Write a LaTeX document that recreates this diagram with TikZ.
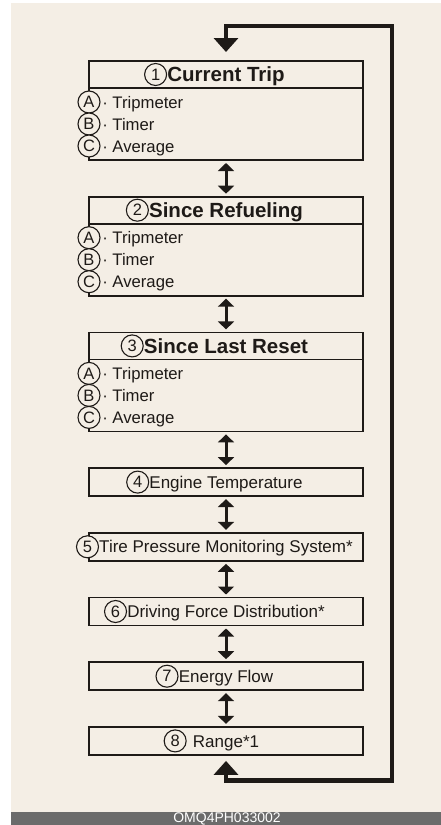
\documentclass[tikz,border=0pt]{standalone}
\usepackage{fontspec}
\setsansfont{Liberation Sans}
\usetikzlibrary{arrows.meta,positioning}
\definecolor{pagebg}{HTML}{F4EEE5}
\definecolor{inkc}{HTML}{1E1A17}
\definecolor{barbg}{HTML}{6B6B6B}

\begin{document}
\begin{tikzpicture}[
  x=1pt, y=1pt,
  font=\sffamily,
  head/.style={
    draw=inkc,
    line width=1.8pt,
    outer sep=0pt,
    inner sep=0pt,
    minimum width=274pt,
    minimum height=27pt
  },
  body/.style={
    head,
    minimum height=72pt
  },
  single/.style={
    head,
    minimum height=28pt
  },
  ttl/.style={
    font=\sffamily\bfseries\fontsize{20.5}{24}\selectfont,
    text=inkc,
    inner sep=0pt,
    text height=14.8pt,
    text depth=0pt
  },
  lbl/.style={
    font=\sffamily\fontsize{17}{20}\selectfont,
    text=inkc,
    inner sep=0pt,
    text height=12.2pt,
    text depth=0pt
  },
  itm/.style={
    font=\sffamily\fontsize{16.7}{20}\selectfont,
    text=inkc,
    inner sep=0pt,
    text height=12pt,
    text depth=0pt
  },
  num/.style={
    circle,
    draw=inkc,
    line width=1.1pt,
    fill=pagebg,
    minimum size=22pt,
    inner sep=0pt,
    text=inkc,
    font=\sffamily\fontsize{16.5}{16.5}\selectfont
  },
  dbl/.style={
    {Triangle[width=16pt,length=8pt]}-{Triangle[width=16pt,length=8pt]},
    line width=3pt,
    draw=inkc,
    shorten <=3pt,
    shorten >=3pt
  },
  looparr/.style={
    {Triangle[width=24pt,length=14pt]}-{Triangle[width=24pt,length=14pt]},
    line width=4.5pt,
    draw=inkc,
    line join=miter
  }
]
\useasboundingbox (0,0) rectangle (441,-825);

% --- page ---
\fill[pagebg] (11,-3) rectangle (441,-812);
\fill[barbg] (11,-812) rectangle (441,-825);
\node[font=\sffamily\fontsize{14}{14}\selectfont, text=white, inner sep=0pt] (code) at (227,-818.5) {OMQ4PH033002};

% --- 1 Current Trip ---
\node[head] (h1) at (226,-74.5) {};
\node[body, below=0pt of h1] (d1) {};
\node[ttl] (t1) at (h1.center) {Current Trip};
\node[num, left=0pt of t1] (n1) {1};
\node[num] (a1) at ([yshift=22pt]d1.west) {A};
\node[num] (b1) at (d1.west) {B};
\node[num] (c1) at ([yshift=-22pt]d1.west) {C};
\node[itm, right=1.5pt of a1] (ia1) {· Tripmeter};
\node[itm, right=1.5pt of b1] (ib1) {· Timer};
\node[itm, right=1.5pt of c1] (ic1) {· Average};

% --- 2 Since Refueling ---
\node[head, below=36.7pt of d1] (h2) {};
\node[body, below=0pt of h2] (d2) {};
\node[ttl] (t2) at (h2.center) {Since Refueling};
\node[num, left=0pt of t2] (n2) {2};
\node[num] (a2) at ([yshift=22pt]d2.west) {A};
\node[num] (b2) at (d2.west) {B};
\node[num] (c2) at ([yshift=-22pt]d2.west) {C};
\node[itm, right=1.5pt of a2] (ia2) {· Tripmeter};
\node[itm, right=1.5pt of b2] (ib2) {· Timer};
\node[itm, right=1.5pt of c2] (ic2) {· Average};

% --- 3 Since Last Reset ---
\node[head, below=36.7pt of d2] (h3) {};
\node[body, below=0pt of h3] (d3) {};
\node[ttl] (t3) at (h3.center) {Since Last Reset};
\node[num, left=0pt of t3] (n3) {3};
\node[num] (a3) at ([yshift=22pt]d3.west) {A};
\node[num] (b3) at (d3.west) {B};
\node[num] (c3) at ([yshift=-22pt]d3.west) {C};
\node[itm, right=1.5pt of a3] (ia3) {· Tripmeter};
\node[itm, right=1.5pt of b3] (ib3) {· Timer};
\node[itm, right=1.5pt of c3] (ic3) {· Average};

% --- single screens ---
\node[single, below=36.7pt of d3] (s4) {};
\node[lbl] (t4) at (s4.center) {Engine Temperature};
\node[num, left=0pt of t4] (n4) {4};

\node[single, below=36.7pt of s4] (s5) {};
\node[lbl] (t5) at (s5.center) {Tire Pressure Monitoring System*};
\node[num, left=0pt of t5] (n5) {5};

\node[single, below=36.7pt of s5] (s6) {};
\node[lbl] (t6) at (s6.center) {Driving Force Distribution*};
\node[num, left=0pt of t6] (n6) {6};

\node[single, below=36.7pt of s6] (s7) {};
\node[lbl] (t7) at (s7.center) {Energy Flow};
\node[num, left=0pt of t7] (n7) {7};

\node[single, below=36.7pt of s7] (s8) {};
\node[lbl] (t8) at (s8.center) {Range*1};
\node[num, left=6pt of t8] (n8) {8};

% --- switching arrows ---
\draw[dbl] (d1) -- (h2);
\draw[dbl] (d2) -- (h3);
\draw[dbl] (d3) -- (s4);
\draw[dbl] (s4) -- (s5);
\draw[dbl] (s5) -- (s6);
\draw[dbl] (s6) -- (s7);
\draw[dbl] (s7) -- (s8);

% back to the first screen
\coordinate (lbot) at (392,-780.5);
\coordinate (ltop) at (392,-26);
\draw[looparr, shorten <=6pt, shorten >=9pt]
  (s8.south) |- (lbot) -- (ltop) -| (h1.north);

\end{tikzpicture}
\end{document}
